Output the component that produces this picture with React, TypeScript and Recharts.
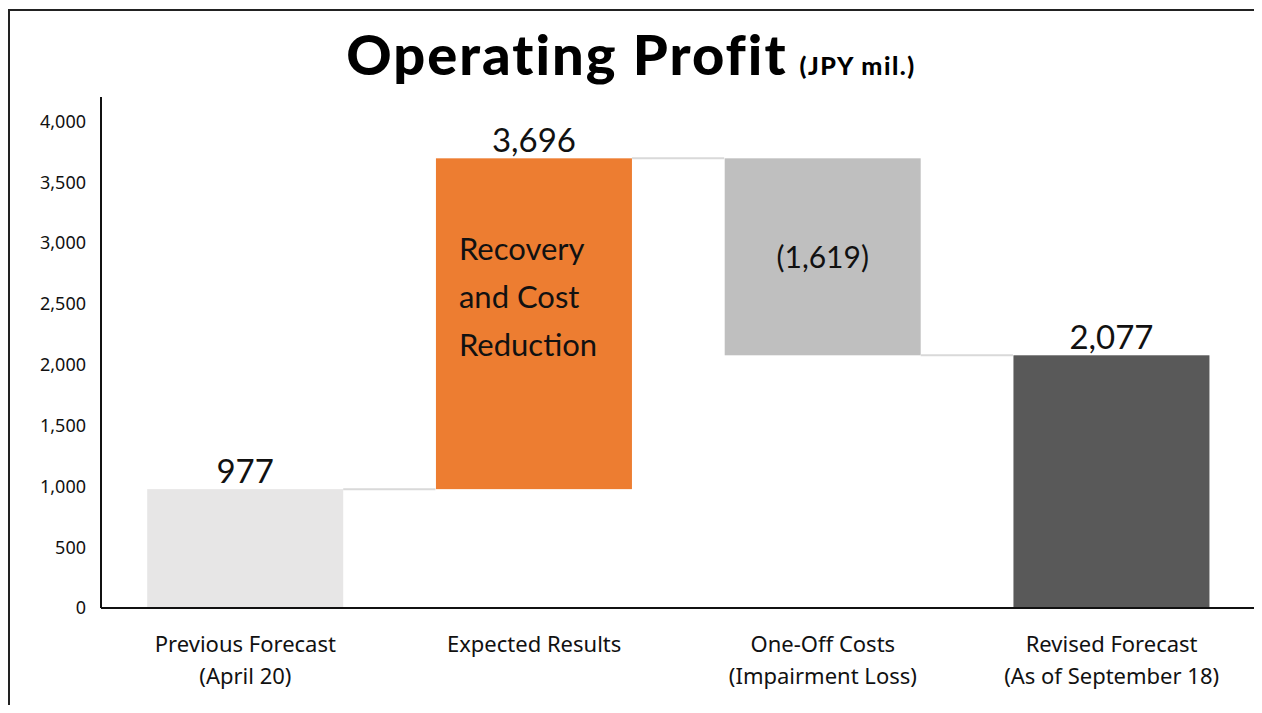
import { BarChart, Bar, XAxis, YAxis, Cell, LabelList } from "recharts";

const categories = [
  ["Previous Forecast", "(April 20)"],
  ["Expected Results"],
  ["One-Off Costs", "(Impairment Loss)"],
  ["Revised Forecast", "(As of September 18)"],
];
const startValues = [0, 977, 3696, 0];
const endValues = [977, 3696, 2077, 2077];
const valueLabels = ["977", "3,696", "(1,619)", "2,077"];
const innerNote = ["Recovery", "and Cost", "Reduction"];
const colors = ["#e7e6e6", "#ed7d31", "#bfbfbf", "#595959"];
const yTicks = [0, 500, 1000, 1500, 2000, 2500, 3000, 3500, 4000];
const yMax = 4200;

const GAP = 0.16;
const numFont = "Lato, 'DejaVu Sans', sans-serif";
const labelFont = "'Noto Sans', 'Open Sans', sans-serif";

const data = categories.map((c, i) => ({
  name: c.join(" "),
  range: [Math.min(startValues[i], endValues[i]), Math.max(startValues[i], endValues[i])],
}));

function WaterfallBar(props: any) {
  const { x, y, width, height, index } = props;
  const [low, high] = data[index].range;
  const levelY = y + (height * (high - endValues[index])) / (high - low || 1);
  const gap = (width * 2 * GAP) / (1 - 2 * GAP);
  return (
    <g>
      <rect x={x} y={y} width={width} height={height} fill={colors[index]} />
      {index < data.length - 1 && (
        <line x1={x + width} x2={x + width + gap} y1={levelY} y2={levelY} stroke="#d9d9d9" strokeWidth={2} />
      )}
    </g>
  );
}

function BarLabel(props: any) {
  const { x, y, width, index } = props;
  const cx = x + width / 2;
  if (index === 2) {
    return (
      <text x={cx} y={y + 110} textAnchor="middle" fontSize={30} fontFamily={numFont} fill="#111">
        {valueLabels[index]}
      </text>
    );
  }
  return (
    <g>
      <text x={cx} y={y - 6} textAnchor="middle" fontSize={33} fontFamily={numFont} fill="#111">
        {valueLabels[index]}
      </text>
      {index === 1 &&
        innerNote.map((line, k) => (
          <text key={k} x={x + 23} y={y + 102 + k * 48} fontSize={31} fontFamily={numFont} fill="#111">
            {line}
          </text>
        ))}
    </g>
  );
}

function CategoryTick(props: any) {
  const { x, y, payload } = props;
  const lines = categories[payload.index] ?? [payload.value];
  return (
    <text x={x} y={y} textAnchor="middle" fontSize={22} fontFamily={labelFont} fill="#111">
      {lines.map((l, k) => (
        <tspan key={k} x={x} dy={k === 0 ? 36 : 32}>
          {l}
        </tspan>
      ))}
    </text>
  );
}

export default function App() {
  return (
    <div style={{ position: "relative", width: 1262, height: 713, margin: -8, background: "#fff" }}>
      <div
        style={{
          position: "absolute",
          left: 8,
          top: 9,
          right: 0,
          bottom: 0,
          borderLeft: "2px solid #222",
          borderTop: "2px solid #222",
        }}
      />
      <div
        style={{
          position: "absolute",
          left: 0,
          width: 1262,
          top: 20,
          textAlign: "center",
          fontFamily: numFont,
          fontWeight: 900,
          color: "#000",
          whiteSpace: "nowrap",
        }}
      >
        <span style={{ fontSize: 56, letterSpacing: 2 }}>Operating Profit</span>
        <span style={{ fontSize: 25, marginLeft: 12, letterSpacing: 1.5 }}>(JPY mil.)</span>
      </div>
      <div style={{ position: "absolute", left: 0, top: 0 }}>
        <BarChart
          width={1262}
          height={713}
          data={data}
          barCategoryGap={`${GAP * 100}%`}
          margin={{ top: 97, right: 6, bottom: 0, left: 0 }}
        >
          <XAxis
            dataKey="name"
            height={105}
            axisLine={{ stroke: "#111", strokeWidth: 2 }}
            tickLine={false}
            tick={<CategoryTick />}
            interval={0}
          />
          <YAxis
            width={101}
            domain={[0, yMax]}
            ticks={yTicks}
            axisLine={{ stroke: "#111", strokeWidth: 2 }}
            tickLine={false}
            tickMargin={9}
            tickFormatter={(v: number) => v.toLocaleString("en-US")}
            tick={{ fontSize: 18, fontFamily: labelFont, fill: "#111" }}
          />
          <Bar dataKey="range" shape={<WaterfallBar />} isAnimationActive={false}>
            {data.map((_, i) => (
              <Cell key={i} fill={colors[i]} />
            ))}
            <LabelList dataKey="range" content={<BarLabel />} />
          </Bar>
        </BarChart>
      </div>
    </div>
  );
}
